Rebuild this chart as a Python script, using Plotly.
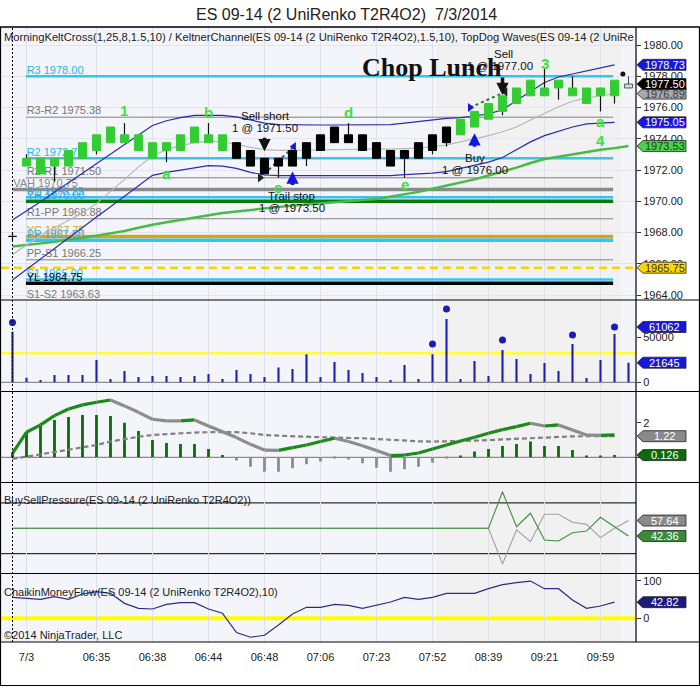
import plotly.graph_objects as go

W, H = 700, 687
FONT = "Liberation Sans, Arial, sans-serif"

# ---------------- data ----------------
bar_open = [1967.75, 1972.25, 1972.75, 1972.25, 1972.25, 1972.75, 1973.25, 1973.75, 1974.25, 1974.25,
            1973.75, 1973.25, 1973.25, 1973.75, 1974.25, 1974.25, 1973.75, 1973.25, 1972.75, 1972.25,
            1972.25, 1972.75, 1973.25, 1973.75, 1974.25, 1974.25, 1973.75, 1973.25, 1972.75, 1972.75,
            1973.25, 1973.75, 1974.25, 1974.75, 1975.25, 1975.75, 1976.25, 1976.75, 1977.25, 1977.25,
            1977.25, 1977.25, 1976.75, 1976.75]
bar_close = [1967.75, 1972.75, 1971.75, 1972.75, 1973.25, 1973.75, 1974.25, 1974.75, 1973.75, 1973.25,
             1972.75, 1973.75, 1974.25, 1974.75, 1973.75, 1973.25, 1972.75, 1972.25, 1971.75, 1972.75,
             1973.25, 1973.75, 1974.25, 1974.75, 1973.75, 1973.25, 1972.75, 1972.25, 1973.25, 1973.75,
             1974.25, 1974.75, 1975.25, 1975.75, 1976.25, 1976.75, 1977.25, 1977.75, 1976.75, 1977.75,
             1976.75, 1976.25, 1977.25, 1977.75]
bar_high = [1968.0, 1973.0, 1972.75, 1972.75, 1973.25, 1973.75, 1974.25, 1974.75, 1975.0, 1974.25,
            1973.75, 1973.75, 1974.25, 1974.75, 1975.0, 1974.25, 1973.75, 1973.25, 1972.75, 1972.75,
            1973.25, 1973.75, 1974.25, 1974.75, 1975.0, 1974.25, 1973.75, 1973.25, 1973.25, 1973.75,
            1974.25, 1974.75, 1975.25, 1975.75, 1976.25, 1976.75, 1977.25, 1977.75, 1978.5, 1977.75,
            1978.0, 1977.25, 1977.25, 1977.75]
bar_low = [1967.5, 1972.25, 1971.75, 1971.25, 1972.25, 1972.75, 1973.0, 1973.75, 1973.75, 1973.25,
           1972.75, 1972.5, 1973.25, 1973.75, 1973.75, 1973.25, 1972.75, 1972.25, 1971.75, 1971.5,
           1972.25, 1972.25, 1973.25, 1973.75, 1973.75, 1973.25, 1972.75, 1972.25, 1971.5, 1972.75,
           1973.0, 1973.5, 1974.25, 1974.75, 1975.25, 1975.5, 1976.25, 1976.75, 1976.75, 1976.5,
           1976.75, 1976.25, 1975.75, 1976.25]
bar_trend = [-1] + [1] * 15 + [-1] * 16 + [1] * 12

ghost_bar = 44
ghost_open, ghost_close, ghost_high, ghost_low = 1977.25, 1977.50, 1978.0, 1977.25
topdog_dot_x, topdog_dot_y = 43.6, 1978.15

kelt_upper = [1968.8, 1969.36, 1969.97, 1970.57, 1971.18, 1971.78, 1972.39, 1972.99, 1973.6, 1974.21,
              1974.85, 1975.15, 1975.35, 1975.5, 1975.52, 1975.5, 1975.4, 1975.2, 1975.0, 1974.9,
              1974.88, 1974.88, 1974.88, 1974.88, 1974.88, 1974.88, 1974.88, 1974.9, 1975.0, 1975.1,
              1975.2, 1975.3, 1975.35, 1975.45, 1975.6, 1975.85, 1976.45, 1977.0, 1977.6, 1977.95,
              1978.15, 1978.35, 1978.55, 1978.73]
kelt_mid = [1966.6, 1967.2, 1967.8, 1968.3, 1968.75, 1969.25, 1969.85, 1970.6, 1971.4, 1972.2,
            1972.9, 1973.3, 1973.55, 1973.75, 1973.85, 1973.8, 1973.65, 1973.45, 1973.3, 1973.25,
            1973.25, 1973.25, 1973.28, 1973.3, 1973.32, 1973.33, 1973.33, 1973.33, 1973.35, 1973.4,
            1973.5, 1973.6, 1973.8, 1974.0, 1974.2, 1974.45, 1974.75, 1975.2, 1975.65, 1976.05,
            1976.4, 1976.6, 1976.75, 1976.89]
kelt_lower = [1964.96, 1965.64, 1966.3, 1966.98, 1967.65, 1968.31, 1968.99, 1969.65, 1970.32, 1971.0,
              1971.66, 1971.85, 1972.0, 1972.15, 1972.28, 1972.25, 1972.1, 1971.85, 1971.68, 1971.64,
              1971.64, 1971.64, 1971.64, 1971.64, 1971.64, 1971.64, 1971.64, 1971.64, 1971.7, 1971.75,
              1971.8, 1971.9, 1972.1, 1972.3, 1972.5, 1972.8, 1973.3, 1973.8, 1974.2, 1974.5,
              1974.75, 1974.95, 1975.0, 1975.05]
green_ma = [1967.1, 1967.2, 1967.3, 1967.4, 1967.55, 1967.65, 1967.8, 1967.95, 1968.1, 1968.3,
            1968.5, 1968.65, 1968.8, 1968.95, 1969.1, 1969.25, 1969.35, 1969.45, 1969.55, 1969.65,
            1969.72, 1969.8, 1969.88, 1969.95, 1970.0, 1970.08, 1970.14, 1970.3, 1970.42, 1970.6,
            1970.8, 1971.0, 1971.2, 1971.4, 1971.65, 1971.9, 1972.15, 1972.45, 1972.7, 1972.85,
            1973.0, 1973.15, 1973.3, 1973.4, 1973.53]

# pivot levels
pivot_names = ["R3", "R3-R2", "R2", "R2-R1", "VAH", "R1", "YH", "R1-PP", "YC", "PP", "PP-S1", "S1", "YL", "S1-S2"]
pivot_values = [1978.00, 1975.38, 1972.75, 1971.50, 1970.75, 1970.25, 1970.00, 1968.88, 1967.75, 1967.50,
                1966.25, 1965.00, 1964.75, 1963.63]
pivot_colors = ["#35c4f2", "#808080", "#35c4f2", "#808080", "#8a8a8a", "#35c4f2", "#0a7a0a", "#808080",
                "#d9a21b", "#35c4f2", "#808080", "#35c4f2", "#000000", "#808080"]
pivot_widths = [2.5, 1, 2.5, 1, 3.5, 2.5, 3.5, 1, 3.5, 3.5, 1, 2.5, 3.5, 1]
pivot_label_colors = ["#2fb2e6", "#777777", "#2fb2e6", "#777777", "#888888", "#2fb2e6", "#2fa8dc", "#777777",
                      "#d9a21b", "#2fb2e6", "#777777", "#2fb2e6", "#000000", "#777777"]
pivot_first_bar = [0.96] * 4 + [0.0] + [0.96] * 9
pivot_last_bar = 42.9
yellow_level = 1965.75

# trades
trade_entry_x = [17.68, 32.68]
trade_entry_y = [1971.50, 1976.00]
trade_exit_x = [20.1, 35.2]
trade_exit_y = [1973.50, 1977.00]
trade_colors = ["#555555", "#2e7d2e"]

# wave labels
wave_text = ["1", "b", "a", "c", "d", "e", "3", "a", "4"]
wave_x = [8, 14, 11, 19, 24, 28, 38, 42, 42]
wave_y = [1975.78, 1975.71, 1971.8, 1970.9, 1975.71, 1971.08, 1978.83, 1975.09, 1973.92]

# volume
volume = [55900, 5150, 2580, 8100, 8100, 8100, 24650, 3680, 12500, 5900,
          7000, 7000, 5900, 7000, 9200, 3680, 13600, 9200, 5900, 16200,
          14700, 30900, 5900, 22400, 13600, 10300, 5900, 2580, 19100, 3680,
          30900, 69900, 3680, 23500, 7000, 35700, 25800, 9200, 21300, 12500,
          42300, 4800, 24650, 53400, 21645]
volume_dots = [65900] + [None] * 29 + [42300, 81000, None, None, None, 46700, None, None, None, None,
                                      52300, None, None, 61062, None]
volume_avg = 32000

# oscillator
osc_main = [0.23, 1.45, 1.87, 2.41, 2.79, 3.03, 3.18, 3.31, 2.97, 2.60,
            2.20, 2.10, 2.10, 2.16, 1.81, 1.48, 1.14, 0.75, 0.42, 0.40,
            0.56, 0.71, 0.91, 1.10, 0.91, 0.67, 0.39, 0.10, 0.13, 0.25,
            0.48, 0.71, 0.94, 1.16, 1.39, 1.60, 1.77, 1.97, 1.81, 1.87,
            1.58, 1.29, 1.27, 1.30]
osc_signal = [-0.10, 0.04, 0.17, 0.29, 0.42, 0.56, 0.71, 0.91, 1.06, 1.19,
              1.29, 1.35, 1.39, 1.43, 1.45, 1.45, 1.45, 1.39, 1.29, 1.25,
              1.21, 1.18, 1.16, 1.14, 1.14, 1.10, 1.06, 1.00, 0.96, 0.92,
              0.91, 0.91, 0.94, 0.96, 1.00, 1.04, 1.08, 1.12, 1.16, 1.19,
              1.21, 1.22, 1.22, 1.22]
osc_hist = [0.25, 1.45, 1.81, 2.16, 2.33, 2.45, 2.45, 2.39, 2.00, 1.52,
            1.00, 0.83, 0.77, 0.77, 0.48, 0.13, -0.19, -0.54, -0.83, -0.83,
            -0.64, -0.40, -0.25, -0.04, -0.13, -0.35, -0.60, -0.83, -0.69, -0.54,
            -0.31, -0.06, 0.08, 0.33, 0.48, 0.66, 0.77, 0.91, 0.66, 0.66,
            0.42, 0.06, 0.06, 0.126]

# buy / sell pressure
bsp_buy = [50] * 35 + [86.0, 51.6, 64.8, 38.5, 37.5, 45.7, 47.3, 60.8, 51.6, 42.36]
bsp_sell = [50] * 35 + [14.9, 48.4, 36.8, 63.8, 63.8, 55.9, 53.9, 40.8, 50.0, 57.64]
bsp_levels = [75, 25]

# chaikin money flow
cmf = [55.8, 53.0, 50.4, 57.5, 50.4, 64.6, 70.8, 66.4, 39.8, 26.5,
       24.8, 37.2, 41.6, 41.6, 24.8, 13.3, -38.0, -50.4, -45.1, -17.7,
       11.5, 29.2, 29.2, 37.2, 34.5, 26.5, 35.4, 43.4, 55.8, 50.4,
       55.8, 66.4, 66.4, 66.4, 78.8, 89.4, 94.7, 99.1, 78.8, 78.8,
       48.7, 26.5, 32.7, 42.82]

# x axis labels
xtick_bars = [1, 6, 10, 14, 18, 22, 26, 30, 34, 38, 42]
xtick_text = ["7/3", "06:35", "06:38", "06:44", "06:48", "07:06", "07:23", "07:52", "08:39", "09:21", "09:59"]
shade_start, shade_end = 30.3, 43.45
session_break_bar = 0

# right-side value flags: (value, text, background, text colour)
price_flags = [(1978.73, "1978.73", "#1818d8", "white"), (1976.89, "1976.89", "#a9a9a9", "#3a3a3a"),
               (1977.50, "1977.50", "#000000", "white"), (1975.05, "1975.05", "#1818d8", "white"),
               (1973.53, "1973.53", "#4fcf4f", "#1d3d1d"), (1965.75, "1965.75", "#ffd700", "#333333")]
vol_flags = [(61062, "61062", "#1818d8", "white"), (21645, "21645", "#1818d8", "white")]
osc_flags = [(1.22, "1.22", "#8a8a8a", "white"), (0.126, "0.126", "#0b6b0b", "white")]
bsp_flags = [(57.64, "57.64", "#8a8a8a", "white"), (42.36, "42.36", "#3a8a3a", "white")]
cmf_flags = [(42.82, "42.82", "#1c1c78", "white")]

# ---------------- layout geometry ----------------
PLOT_L, PLOT_R = 1, 636
panels = {  # axis: (top px, bottom px, range)
    "y": (27, 300, [1963.68, 1981.152]),
    "y2": (300, 391.5, [-10155, 90843]),
    "y3": (391.5, 482.5, [-1.457, 3.803]),
    "y4": (482.5, 573.5, [5.51, 95.08]),
    "y5": (573.5, 642, [-63.03, 119.15]),
}
XRANGE = [-0.821, 44.536]


def py(px):
    return 1 - px / H


def pxx(px):
    return px / W


def ppu(ax):
    t, b, r = panels[ax]
    return (b - t) / (r[1] - r[0])


fig = go.Figure()

# ---------- price panel ----------
for v, c, w, x0 in zip(pivot_values, pivot_colors, pivot_widths, pivot_first_bar):
    fig.add_trace(go.Scatter(x=[x0, pivot_last_bar], y=[v, v], mode="lines",
                             line=dict(color=c, width=w), xaxis="x", yaxis="y"))
fig.add_trace(go.Scatter(x=[XRANGE[0], XRANGE[1]], y=[yellow_level, yellow_level], mode="lines",
                         line=dict(color="#f5d20a", width=2.5, dash="8px,5px"), xaxis="x", yaxis="y"))
fig.add_trace(go.Scatter(
    x=[x0 + 0.05 for x0 in pivot_first_bar], y=pivot_values, mode="text",
    text=[f"{n} {v:.2f}" for n, v in zip(pivot_names, pivot_values)],
    textposition="top right", textfont=dict(family=FONT, size=11, color=pivot_label_colors),
    xaxis="x", yaxis="y"))

fig.add_trace(go.Scatter(x=list(range(len(green_ma))), y=green_ma, mode="lines",
                         line=dict(color="#46bb46", width=2.5), xaxis="x", yaxis="y"))
fig.add_trace(go.Scatter(x=list(range(len(kelt_mid))), y=kelt_mid, mode="lines",
                         line=dict(color="#b8b8b8", width=1.2), xaxis="x", yaxis="y"))
for band in (kelt_upper, kelt_lower):
    fig.add_trace(go.Scatter(x=list(range(len(band))), y=band, mode="lines",
                             line=dict(color="#2a2ab4", width=1.2), xaxis="x", yaxis="y"))

for ex, ey, xx, xy, c in zip(trade_entry_x, trade_entry_y, trade_exit_x, trade_exit_y, trade_colors):
    fig.add_trace(go.Scatter(x=[ex, xx], y=[ey, xy], mode="lines",
                             line=dict(color=c, width=2, dash="dot"), xaxis="x", yaxis="y"))

# wicks
wx, wy = [], []
for i in range(len(bar_open)):
    top, bot = max(bar_open[i], bar_close[i]), min(bar_open[i], bar_close[i])
    if bar_high[i] > top:
        wx += [i, i, None]
        wy += [top, bar_high[i], None]
    if bar_low[i] < bot:
        wx += [i, i, None]
        wy += [bot, bar_low[i], None]
fig.add_trace(go.Scatter(x=wx, y=wy, mode="lines", line=dict(color="#111111", width=1.2),
                         xaxis="x", yaxis="y"))

HALF = 0.29
for trend, col in ((1, "#33cc33"), (-1, "#000000")):
    bx, by = [], []
    for i in range(len(bar_open)):
        if bar_trend[i] != trend:
            continue
        top, bot = max(bar_open[i], bar_close[i]), min(bar_open[i], bar_close[i])
        bx += [i - HALF, i + HALF, i + HALF, i - HALF, i - HALF, None]
        by += [bot, bot, top, top, bot, None]
    fig.add_trace(go.Scatter(x=bx, y=by, mode="lines", fill="toself", fillcolor=col,
                             line=dict(color=col, width=1), xaxis="x", yaxis="y"))

# ghost (forming) bar
fig.add_trace(go.Scatter(x=[ghost_bar, ghost_bar], y=[max(ghost_open, ghost_close), ghost_high], mode="lines",
                         line=dict(color="#444444", width=1), xaxis="x", yaxis="y"))
gb, gt = min(ghost_open, ghost_close), max(ghost_open, ghost_close)
fig.add_trace(go.Scatter(x=[ghost_bar - HALF, ghost_bar + HALF, ghost_bar + HALF, ghost_bar - HALF, ghost_bar - HALF],
                         y=[gb, gb, gt, gt, gb], mode="lines", fill="toself", fillcolor="#c6eac6",
                         line=dict(color="#555555", width=1), xaxis="x", yaxis="y"))
fig.add_trace(go.Scatter(x=[topdog_dot_x], y=[topdog_dot_y], mode="markers",
                         marker=dict(color="#111111", size=5), xaxis="x", yaxis="y"))

# trade markers
fig.add_trace(go.Scatter(x=trade_entry_x, y=trade_entry_y, mode="markers",
                         marker=dict(symbol="triangle-right", size=8, color=["#222222", "#1515e0"]),
                         xaxis="x", yaxis="y"))
fig.add_trace(go.Scatter(x=trade_exit_x, y=trade_exit_y, mode="markers",
                         marker=dict(symbol="triangle-left", size=8, color=["#1515e0", "#222222"]),
                         xaxis="x", yaxis="y"))

# ---------- volume panel ----------
fig.add_trace(go.Bar(x=list(range(len(volume))), y=volume, width=0.15,
                     marker=dict(color="#1c1cb8", line=dict(width=0)), xaxis="x", yaxis="y2"))
fig.add_trace(go.Scatter(x=list(range(len(volume_dots))), y=volume_dots, mode="markers",
                         marker=dict(color="#1c1cb8", size=7), xaxis="x", yaxis="y2"))

# ---------- oscillator panel ----------
fig.add_trace(go.Bar(x=list(range(len(osc_hist))), y=osc_hist, width=0.2,
                     marker=dict(color=["#0b6b0b" if v >= 0 else "#8c8c8c" for v in osc_hist], line=dict(width=0)),
                     xaxis="x", yaxis="y3"))
fig.add_trace(go.Scatter(x=list(range(len(osc_signal))), y=osc_signal, mode="lines",
                         line=dict(color="#808080", width=2.2, dash="5px,3px"), xaxis="x", yaxis="y3"))
for rising, col in ((True, "#1a8a1a"), (False, "#8c8c8c")):
    sx, sy = [], []
    for i in range(len(osc_main) - 1):
        if (osc_main[i + 1] > osc_main[i]) == rising:
            sx += [i, i + 1, None]
            sy += [osc_main[i], osc_main[i + 1], None]
    fig.add_trace(go.Scatter(x=sx, y=sy, mode="lines", line=dict(color=col, width=3.2),
                             xaxis="x", yaxis="y3"))

# ---------- buy/sell pressure ----------
fig.add_trace(go.Scatter(x=list(range(len(bsp_sell))), y=bsp_sell, mode="lines",
                         line=dict(color="#a0a0a0", width=1.1), xaxis="x", yaxis="y4"))
fig.add_trace(go.Scatter(x=list(range(len(bsp_buy))), y=bsp_buy, mode="lines",
                         line=dict(color="#3f8f3f", width=1.1), xaxis="x", yaxis="y4"))

# ---------- chaikin ----------
fig.add_trace(go.Scatter(x=list(range(len(cmf))), y=cmf, mode="lines",
                         line=dict(color="#2c2c86", width=1.2), xaxis="x", yaxis="y5"))

# ---------- shapes ----------
shapes = []
shapes.append(dict(type="rect", xref="paper", yref="paper", x0=pxx(PLOT_L), x1=pxx(PLOT_R),
                   y0=py(642), y1=py(27), fillcolor="#f4f5fb", line=dict(width=0), layer="below"))
shapes.append(dict(type="rect", xref="x", yref="paper", x0=shade_start, x1=shade_end,
                   y0=py(642), y1=py(27), fillcolor="#f1f1f1", line=dict(width=0), layer="below"))
shapes.append(dict(type="line", xref="paper", yref="y2", x0=pxx(PLOT_L), x1=pxx(PLOT_R),
                   y0=0, y1=0, line=dict(color="#8c8c8c", width=1.2), layer="below"))
shapes.append(dict(type="line", xref="paper", yref="y2", x0=pxx(PLOT_L), x1=pxx(PLOT_R),
                   y0=volume_avg, y1=volume_avg, line=dict(color="#ffff33", width=2.5), layer="below"))
shapes.append(dict(type="line", xref="paper", yref="y3", x0=pxx(PLOT_L), x1=pxx(PLOT_R),
                   y0=0, y1=0, line=dict(color="#8c8c8c", width=1.2), layer="below"))
for lv in bsp_levels:
    shapes.append(dict(type="line", xref="paper", yref="y4", x0=pxx(PLOT_L), x1=pxx(PLOT_R),
                       y0=lv, y1=lv, line=dict(color="#000000", width=1), layer="below"))
shapes.append(dict(type="line", xref="paper", yref="y5", x0=pxx(PLOT_L), x1=pxx(PLOT_R),
                   y0=0, y1=0, line=dict(color="#ffff00", width=4), layer="below"))
shapes.append(dict(type="line", xref="x", yref="paper", x0=session_break_bar, x1=session_break_bar,
                   y0=py(642), y1=py(27), line=dict(color="#000000", width=1, dash="2px,2px"), layer="above"))
for ypx in (27, 300, 391.5, 482.5, 573.5, 642):
    shapes.append(dict(type="line", xref="paper", yref="paper", x0=0, x1=pxx(699.5), y0=py(ypx), y1=py(ypx),
                       line=dict(color="#000000", width=1.2), layer="above"))
shapes.append(dict(type="line", xref="paper", yref="paper", x0=pxx(PLOT_R), x1=pxx(PLOT_R), y0=py(642), y1=py(27),
                   line=dict(color="#000000", width=1.2), layer="above"))
shapes.append(dict(type="rect", xref="paper", yref="paper", x0=pxx(0.5), x1=pxx(699.5), y0=py(685.5), y1=py(27),
                   line=dict(color="#000000", width=1.2), layer="above"))

annotations = []


def add_flags(ax, flags):
    hh = 5.5 / ppu(ax)
    xa, xb, xc = pxx(637), pxx(643), pxx(686)
    for v, txt, bg, fg in flags:
        path = (f"M {xa},{v} L {xb},{v + hh} L {xc},{v + hh} L {xc},{v - hh} "
                f"L {xb},{v - hh} Z")
        shapes.append(dict(type="path", xref="paper", yref=ax, path=path, fillcolor=bg,
                           line=dict(color="#222222", width=0.8), layer="above"))
        annotations.append(dict(x=pxx(664.5), y=v, xref="paper", yref=ax, text=txt, showarrow=False,
                                xanchor="center", yanchor="middle",
                                font=dict(family=FONT, size=11, color=fg)))


add_flags("y", price_flags)
add_flags("y2", vol_flags)
add_flags("y3", osc_flags)
add_flags("y4", bsp_flags)
add_flags("y5", cmf_flags)

annotations.append(dict(x=pxx(346), y=py(14), xref="paper", yref="paper", showarrow=False,
                        text="ES 09-14 (2 UniRenko T2R4O2)  7/3/2014", xanchor="center", yanchor="middle",
                        font=dict(family=FONT, size=16, color="#222222")))
annotations.append(dict(x=pxx(2), y=py(37), xref="paper", yref="paper", showarrow=False,
                        text="MorningKeltCross(1,25,8,1.5,10) / KeltnerChannel(ES 09-14 (2 UniRenko T2R4O2),1.5,10), "
                             "TopDog Waves(ES 09-14 (2 UniRe",
                        xanchor="left", yanchor="middle", font=dict(family=FONT, size=11.2, color="#222222")))
annotations.append(dict(x=pxx(2), y=py(500), xref="paper", yref="paper", showarrow=False,
                        text="BuySellPressure(ES 09-14 (2 UniRenko T2R4O2))",
                        xanchor="left", yanchor="middle", font=dict(family=FONT, size=11, color="#222222")))
annotations.append(dict(x=pxx(2), y=py(591.5), xref="paper", yref="paper", showarrow=False,
                        text="ChaikinMoneyFlow(ES 09-14 (2 UniRenko T2R4O2),10)",
                        xanchor="left", yanchor="middle", font=dict(family=FONT, size=11, color="#222222")))
annotations.append(dict(x=pxx(2), y=py(635), xref="paper", yref="paper", showarrow=False,
                        text="©2014 NinjaTrader, LLC",
                        xanchor="left", yanchor="middle", font=dict(family=FONT, size=11, color="#222222")))

trade_texts = [("Sell short", 18.04, 1975.48), ("1 @ 1971.50", 18.04, 1974.67),
               ("Trail stop", 19.94, 1970.36), ("1 @ 1973.50", 19.94, 1969.55),
               ("Buy", 33.04, 1972.75), ("1 @ 1976.00", 33.04, 1972.0),
               ("Sell", 35.04, 1979.42), ("1 @ 1977.00", 34.8, 1978.66)]
for t, x, y in trade_texts:
    annotations.append(dict(x=x, y=y, xref="x", yref="y", text=t, showarrow=False,
                            xanchor="center", yanchor="middle",
                            font=dict(family=FONT, size=11.5, color="#111111")))

# "Chop Lunch" drawn over the trade text, as in the original
annotations.append(dict(x=29.96, y=1978.53, xref="x", yref="y", showarrow=False, text="<b>Chop Lunch</b>",
                        xanchor="center", yanchor="middle",
                        font=dict(family="Liberation Serif, Times New Roman, serif", size=26, color="#111111")))

# arrows: bar, tip price, direction, colour, length px
arrows = [(18, 1973.2, -1, "#111111", 15), (20, 1971.9, 1, "#1515e0", 15),
          (33, 1974.35, 1, "#1515e0", 15), (35, 1976.8, -1, "#111111", 19)]
for bx, tip, d, col, ln in arrows:
    annotations.append(dict(x=bx, y=tip, xref="x", yref="y", text="", showarrow=True,
                            ax=0, ay=-ln if d == -1 else ln, arrowcolor=col, arrowwidth=3.5,
                            arrowhead=2, arrowsize=0.7))

for t, x, y in zip(wave_text, wave_x, wave_y):
    annotations.append(dict(x=x, y=y, xref="x", yref="y", text=f"<b>{t}</b>", showarrow=False,
                            xanchor="center", yanchor="middle",
                            font=dict(family=FONT, size=15, color="#3ee03e")))

# ---------- axes ----------
axis_common = dict(side="right", anchor="x", showline=False, zeroline=False, ticks="outside", ticklen=4,
                   tickcolor="#333333", tickfont=dict(family=FONT, size=11, color="#222222"), fixedrange=True)
layout_axes = {}
for ax, (t, b, r) in panels.items():
    key = "yaxis" if ax == "y" else "yaxis" + ax[1:]
    layout_axes[key] = dict(axis_common, domain=[py(b), py(t)], range=r, showgrid=False)
layout_axes["yaxis"].update(tickvals=[1964, 1966, 1968, 1970, 1972, 1974, 1976, 1978, 1980], tickformat=".2f",
                            showgrid=True, gridcolor="#e3e4ee", gridwidth=1)
layout_axes["yaxis2"].update(tickvals=[0, 50000], tickformat="d")
layout_axes["yaxis3"].update(tickvals=[0, 2], tickformat="d")
layout_axes["yaxis4"].update(tickvals=[], ticks="")
layout_axes["yaxis5"].update(tickvals=[0, 100], tickformat="d")

fig.update_layout(
    width=W, height=H, margin=dict(l=0, r=0, t=0, b=0),
    paper_bgcolor="white", plot_bgcolor="rgba(0,0,0,0)",
    showlegend=False, hovermode=False, barmode="overlay",
    xaxis=dict(domain=[pxx(PLOT_L), pxx(PLOT_R)], range=XRANGE, anchor="y5", showline=False, zeroline=False,
               tickvals=xtick_bars, ticktext=xtick_text, ticks="outside", ticklen=5,
               tickcolor="rgba(0,0,0,0)", tickfont=dict(family=FONT, size=11, color="#222222"),
               showgrid=True, gridcolor="#dfe0ea", gridwidth=1, fixedrange=True),
    shapes=shapes, annotations=annotations,
    **layout_axes,
)

fig.write_html("out.html", config={"displayModeBar": False},
               post_script="document.body.style.margin='0';document.body.style.overflow='hidden';")
